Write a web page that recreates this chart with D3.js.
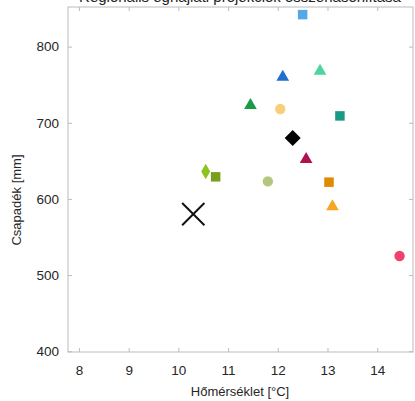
<!DOCTYPE html>
<html><head><meta charset="utf-8">
<script src="https://cdn.jsdelivr.net/npm/d3@7"></script>
<style>body{margin:0;background:#fff}svg{display:block}text{font-family:"Liberation Sans",Arial,sans-serif}</style>
</head><body>
<svg id="c" width="415" height="401"></svg>
<script>
const titleText = "Regionális éghajlati projekciók összehasonlítása";
const xLabel = "Hőmérséklet [°C]";
const yLabel = "Csapadék [mm]";
const xTicks = [8, 9, 10, 11, 12, 13, 14];
const yTicks = [400, 500, 600, 700, 800];
const temps  = [12.5, 12.1, 12.85, 11.45, 12.05, 13.25, 12.57, 10.55, 10.75, 11.8, 13.03, 13.1, 14.45];
const precip = [842, 760, 768, 723, 718, 709, 652, 636, 629, 623, 622, 590, 525];
const shapes = ["square","triangle","triangle","triangle","circle","square","triangle","diamond","square","circle","square","triangle","circle"];
const colors = ["#55a8e6","#1f6fd1","#4fd4a0","#1a9a4a","#f7cf7a","#1a9a86","#b0124f","#8ec21f","#7aa019","#b5c77c","#e08a00","#f5a623","#f0426e"];
const meanPoint = [12.3, 680];
const refPoint = [10.3, 580];

const svg = d3.select("#c");
const L = 68, R = 413, T = 7, B = 352;
const x = d3.scaleLinear().domain([7.78, 14.72]).range([L, R]);
const y = d3.scaleLinear().domain([399, 852]).range([B, T]);

svg.append("text").attr("x", 240).attr("y", 2).attr("text-anchor","middle")
  .attr("font-size", 15).attr("fill","#222").text(titleText);

const g = svg.append("g");
g.append("rect").attr("x", L).attr("y", T).attr("width", R-L).attr("height", B-T)
  .attr("fill","#fff").attr("stroke","#bcbcbc").attr("stroke-width",1);

const ax = g.append("g").attr("transform",`translate(0,${B})`)
  .call(d3.axisBottom(x).tickValues(xTicks).tickSize(-4).tickPadding(13).tickFormat(d3.format("d")));
const axT = g.append("g").attr("transform",`translate(0,${T})`)
  .call(d3.axisTop(x).tickValues(xTicks).tickSize(-4).tickFormat(""));
const ay = g.append("g").attr("transform",`translate(${L},0)`)
  .call(d3.axisLeft(y).tickValues(yTicks).tickSize(-4).tickPadding(9).tickFormat(d3.format("d")));
const ayR = g.append("g").attr("transform",`translate(${R},0)`)
  .call(d3.axisRight(y).tickValues(yTicks).tickSize(-4).tickFormat(""));
[ax, axT, ay, ayR].forEach(a => {
  a.select(".domain").remove();
  a.selectAll(".tick line").attr("stroke","#bcbcbc");
  a.selectAll("text").attr("font-size", 13.5).attr("fill","#262626").attr("font-family","Liberation Sans, Arial, sans-serif");
});

svg.append("text").attr("x", 240).attr("y", 396).attr("text-anchor","middle")
  .attr("font-size", 13).attr("fill","#262626").text(xLabel);
svg.append("text").attr("transform","translate(21,200) rotate(-90)").attr("text-anchor","middle")
  .attr("font-size", 13).attr("fill","#262626").text(yLabel);

const symMap = {square: d3.symbolSquare, triangle: d3.symbolTriangle, circle: d3.symbolCircle, diamond: d3.symbolDiamond};
const sizeMap = {square: 90, triangle: 70, circle: 85, diamond: 70};
temps.forEach((t, i) => {
  svg.append("path")
    .attr("d", d3.symbol().type(symMap[shapes[i]]).size(sizeMap[shapes[i]])())
    .attr("transform", `translate(${x(t)},${y(precip[i])})`)
    .attr("fill", colors[i]);
});

svg.append("path")
  .attr("d", d3.symbol().type(d3.symbolSquare).size(128)())
  .attr("transform", `translate(${x(meanPoint[0])},${y(meanPoint[1])}) rotate(45)`)
  .attr("fill", "#000");

svg.append("path")
  .attr("d", d3.symbol().type(d3.symbolX).size(400)())
  .attr("transform", `translate(${x(refPoint[0])},${y(refPoint[1])}) scale(0.9)`)
  .attr("fill", "none").attr("stroke","#111").attr("stroke-width", 2.2);
</script>
</body></html>
